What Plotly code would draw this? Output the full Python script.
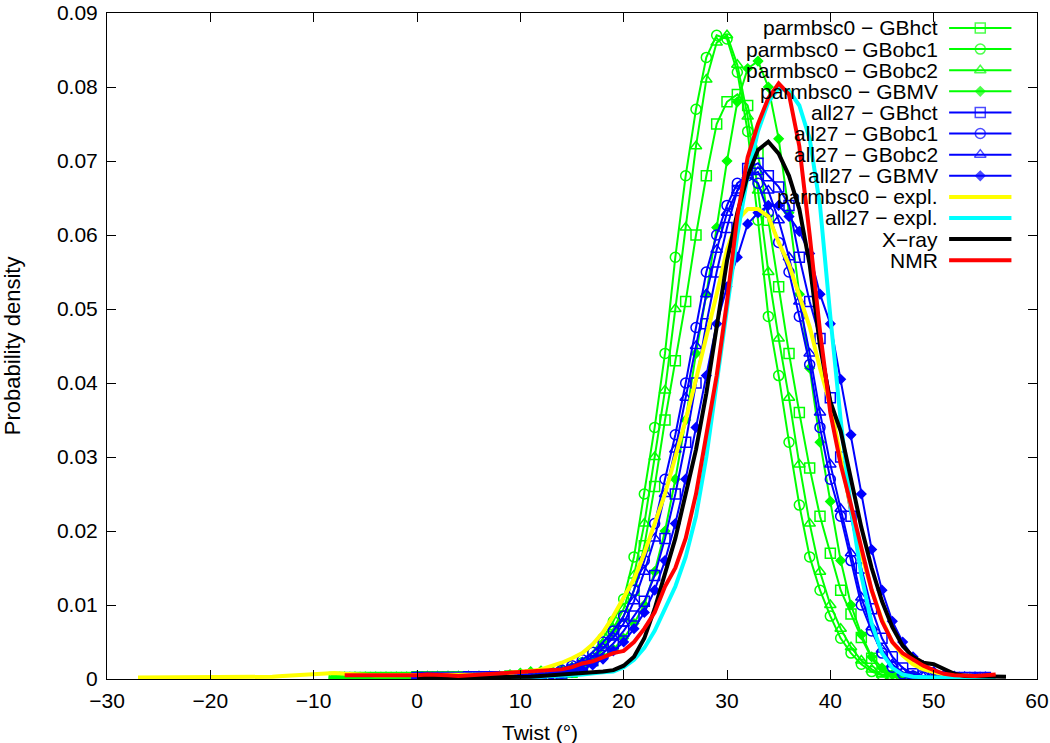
import plotly.graph_objects as go

# Twist grids (degrees) for each data set
X_GREEN = list(range(-8, 49))
X_BLUE = list(range(0, 56))
X_YELLOW = list(range(-27, 57))
X_CYAN = list(range(0, 57))
X_BLACK = list(range(0, 58))
X_RED = list(range(-7, 57))

# parmbsc0 simulations
BSC0_GBHCT = [0.0002, 0.0002, 0.0002, 0.0002, 0.0002, 0.0002, 0.0002, 0.0002,
              0.0003, 0.0003, 0.0003, 0.0003, 0.0003, 0.0003, 0.0003, 0.0003, 0.0003,
              0.0004, 0.0004, 0.0005, 0.0005, 0.0006, 0.0007,
              0.0009, 0.0014, 0.0025, 0.004, 0.006, 0.0085, 0.012, 0.018, 0.026, 0.035,
              0.043, 0.051, 0.060, 0.068, 0.075, 0.078, 0.079, 0.0775, 0.071, 0.062,
              0.053, 0.044, 0.036, 0.0285, 0.022, 0.017, 0.012, 0.0088, 0.0056, 0.0028,
              0.001, 0.0004, 0.0002, 0.0002]
BSC0_GBOBC1 = [0.0002, 0.0002, 0.0002, 0.0002, 0.0002, 0.0002, 0.0002, 0.0002,
               0.0003, 0.0003, 0.0003, 0.0003, 0.0003, 0.0003, 0.0003, 0.0003, 0.0003,
               0.0004, 0.0005, 0.0006, 0.0007, 0.0008, 0.001,
               0.0014, 0.0022, 0.0036, 0.0055, 0.0078, 0.0108, 0.0165, 0.025, 0.034, 0.044,
               0.057, 0.068, 0.077, 0.084, 0.087, 0.0865, 0.082, 0.074, 0.062, 0.049,
               0.041, 0.032, 0.0235, 0.0165, 0.012, 0.0085, 0.0055, 0.0035, 0.002, 0.001,
               0.0005, 0.0003, 0.0002, 0.0002]
BSC0_GBOBC2 = [0.0002, 0.0002, 0.0002, 0.0002, 0.0002, 0.0002, 0.0002, 0.0002,
               0.0003, 0.0003, 0.0003, 0.0003, 0.0003, 0.0003, 0.0003, 0.0003, 0.0003,
               0.0004, 0.0004, 0.0005, 0.0006, 0.0007, 0.0009,
               0.0012, 0.0018, 0.003, 0.0047, 0.0068, 0.0095, 0.014, 0.021, 0.030, 0.039,
               0.050, 0.061, 0.072, 0.081, 0.086, 0.087, 0.083, 0.076, 0.066, 0.055,
               0.046, 0.038, 0.029, 0.021, 0.0145, 0.010, 0.0068, 0.0043, 0.0025, 0.0013,
               0.0006, 0.0003, 0.0002, 0.0002]
BSC0_GBMV = [0.0002, 0.0002, 0.0002, 0.0002, 0.0002, 0.0002, 0.0002, 0.0002,
             0.0004, 0.0004, 0.0004, 0.0004, 0.0004, 0.0004, 0.0004, 0.0004, 0.0004,
             0.0006, 0.0008, 0.001, 0.0011, 0.0012, 0.0014,
             0.0016, 0.0019, 0.0023, 0.003, 0.004, 0.0055, 0.0075, 0.010, 0.0145, 0.020,
             0.027, 0.035, 0.044, 0.052, 0.061, 0.070, 0.078, 0.0825, 0.0835, 0.080,
             0.073, 0.063, 0.052, 0.042, 0.032, 0.024, 0.016, 0.010, 0.006, 0.003,
             0.0015, 0.0006, 0.0003, 0.0002]

# all27 simulations
A27_GBHCT = [0.0002, 0.0002, 0.0002, 0.0002, 0.0002, 0.0003, 0.0003, 0.0003, 0.0003, 0.0003,
             0.0003, 0.0004, 0.0004,
             0.0005, 0.0008, 0.0012, 0.0018, 0.0025, 0.0035, 0.0048, 0.0065, 0.0085, 0.0105,
             0.014, 0.019, 0.025, 0.032, 0.040, 0.048, 0.055, 0.061, 0.066, 0.069,
             0.0697, 0.068, 0.0665, 0.064, 0.057, 0.051, 0.046, 0.038, 0.030, 0.022,
             0.015, 0.0095, 0.0055, 0.003, 0.0015, 0.0007, 0.0004, 0.0003, 0.0002, 0.0002,
             0.0002, 0.0002, 0.0002]
A27_GBOBC1 = [0.0002, 0.0002, 0.0002, 0.0002, 0.0002, 0.0003, 0.0003, 0.0003, 0.0003, 0.0003,
              0.0004, 0.0005, 0.0006,
              0.0008, 0.0012, 0.0018, 0.0026, 0.0036, 0.005, 0.0065, 0.0085, 0.012, 0.016,
              0.021, 0.027, 0.033, 0.040, 0.0475, 0.055, 0.060, 0.064, 0.067, 0.068,
              0.067, 0.063, 0.059, 0.055, 0.049, 0.0425, 0.034, 0.027, 0.022, 0.016,
              0.010, 0.0065, 0.0035, 0.0016, 0.0007, 0.0004, 0.0003, 0.0002, 0.0002, 0.0002,
              0.0002, 0.0002, 0.0002]
A27_GBOBC2 = [0.0002, 0.0002, 0.0002, 0.0002, 0.0002, 0.0003, 0.0003, 0.0003, 0.0003, 0.0003,
              0.0004, 0.0004, 0.0005,
              0.0006, 0.001, 0.0015, 0.0022, 0.003, 0.0042, 0.0056, 0.0075, 0.0105, 0.0145,
              0.019, 0.025, 0.031, 0.038, 0.045, 0.052, 0.058, 0.063, 0.066, 0.068,
              0.0685, 0.066, 0.062, 0.057, 0.051, 0.044, 0.036, 0.029, 0.023, 0.017,
              0.011, 0.007, 0.004, 0.002, 0.0009, 0.0004, 0.0003, 0.0002, 0.0002, 0.0002,
              0.0002, 0.0002, 0.0002]
A27_GBMV = [0.0002, 0.0002, 0.0002, 0.0002, 0.0002, 0.0002, 0.0003, 0.0003, 0.0003, 0.0003,
            0.0003, 0.0003, 0.0004,
            0.0004, 0.0006, 0.0009, 0.0013, 0.0019, 0.0027, 0.0038, 0.005, 0.0068, 0.009,
            0.012, 0.016, 0.021, 0.027, 0.034, 0.041, 0.048, 0.053, 0.057, 0.0615,
            0.063, 0.064, 0.064, 0.0625, 0.0605, 0.0575, 0.052, 0.048, 0.0405, 0.033,
            0.025, 0.0175, 0.012, 0.0078, 0.005, 0.003, 0.0018, 0.001, 0.0006, 0.0004,
            0.0003, 0.0002, 0.0002]

# experimental distributions
BSC0_EXPL = [0.0002, 0.0002, 0.0002, 0.0002, 0.0002, 0.0002, 0.0002, 0.0002, 0.0002, 0.0002,
             0.0002, 0.0002, 0.0003, 0.0003, 0.0004, 0.0005, 0.0006, 0.0007, 0.0008, 0.0008,
             0.0007, 0.0006, 0.0006, 0.0005, 0.0005, 0.0005, 0.0005,
             0.0005, 0.0005, 0.0005, 0.0005, 0.0005, 0.0005, 0.0006, 0.0006, 0.0007, 0.0008,
             0.0009, 0.0011, 0.0013, 0.0017, 0.0022, 0.0028, 0.0035, 0.0047, 0.0063, 0.0085,
             0.011, 0.0135, 0.017, 0.021, 0.025, 0.030, 0.035, 0.0405, 0.046, 0.052,
             0.058, 0.062, 0.0635, 0.0635, 0.0625, 0.059, 0.056, 0.052, 0.0476, 0.042,
             0.037, 0.030, 0.023, 0.017, 0.012, 0.008, 0.005, 0.0032, 0.002, 0.0013,
             0.0009, 0.0006, 0.0005, 0.0004, 0.0004, 0.0004, 0.0004]
A27_EXPL = [0.0002, 0.0002, 0.0002, 0.0002, 0.0002, 0.0002, 0.0003, 0.0003, 0.0003, 0.0003,
            0.0003, 0.0003, 0.0003, 0.0004, 0.0004, 0.0005,
            0.0006, 0.0008, 0.0009, 0.001, 0.0016, 0.0026, 0.0042, 0.0065, 0.0095, 0.0125,
            0.0165, 0.022, 0.030, 0.040, 0.050, 0.060, 0.068, 0.074, 0.078, 0.0798,
            0.0795, 0.0775, 0.073, 0.064, 0.049, 0.035, 0.023, 0.014, 0.0075, 0.0035,
            0.0015, 0.0006, 0.0003, 0.0002, 0.0002, 0.0002, 0.0002, 0.0002, 0.0002, 0.0002,
            0.0002]
XRAY = [0.0002, 0.0002, 0.0002, 0.0002, 0.0002, 0.0002, 0.0002, 0.0002, 0.0002, 0.0002,
        0.0003, 0.0003, 0.0004, 0.0005, 0.0006, 0.0006, 0.0008, 0.0009, 0.001, 0.0012,
        0.0018, 0.003, 0.0055, 0.0095, 0.0145, 0.019, 0.025, 0.031, 0.0386, 0.048,
        0.0565, 0.063, 0.068, 0.0715, 0.0726, 0.071, 0.068, 0.0635, 0.056, 0.045,
        0.0375, 0.0335, 0.027, 0.0205, 0.015, 0.0105, 0.007, 0.0045, 0.003, 0.0022,
        0.002, 0.0014, 0.0007, 0.0004, 0.0004, 0.0003, 0.0004, 0.0003]
NMR = [0.0005, 0.0005, 0.0004, 0.0004, 0.0004, 0.0004, 0.0004,
       0.0005, 0.0006, 0.0006, 0.0005, 0.0004, 0.0005, 0.0005, 0.0006, 0.0007, 0.0008,
       0.0009, 0.001, 0.0012, 0.0013, 0.0013, 0.0016, 0.0021, 0.0024, 0.003, 0.0035,
       0.0038, 0.005, 0.0068, 0.009, 0.0125, 0.015, 0.019, 0.025, 0.033, 0.041,
       0.051, 0.0625, 0.0705, 0.075, 0.0785, 0.0805, 0.079, 0.072, 0.060, 0.047,
       0.036, 0.029, 0.0235, 0.018, 0.012, 0.0078, 0.005, 0.0035, 0.0026, 0.0018,
       0.0012, 0.0007, 0.0005, 0.0004, 0.0004, 0.0005, 0.0006]

X_TICKS = [-30, -20, -10, 0, 10, 20, 30, 40, 50, 60]
Y_TICKS = [0, 0.01, 0.02, 0.03, 0.04, 0.05, 0.06, 0.07, 0.08, 0.09]
Y_TICK_TEXT = ["0", "0.01", "0.02", "0.03", "0.04", "0.05", "0.06", "0.07", "0.08", "0.09"]

GREEN = "#00ff00"
BLUE = "#0000ff"
FONT = "Liberation Sans, Arial, sans-serif"

# (label, x, y, colour, marker symbol or None, line width)
series = [
    ("parmbsc0 \u2212 GBhct", X_GREEN, BSC0_GBHCT, GREEN, "square-open", 2),
    ("parmbsc0 \u2212 GBobc1", X_GREEN, BSC0_GBOBC1, GREEN, "circle-open", 2),
    ("parmbsc0 \u2212 GBobc2", X_GREEN, BSC0_GBOBC2, GREEN, "triangle-up-open", 2),
    ("parmbsc0 \u2212 GBMV", X_GREEN, BSC0_GBMV, GREEN, "diamond", 2),
    ("all27 \u2212 GBhct", X_BLUE, A27_GBHCT, BLUE, "square-open", 2),
    ("all27 \u2212 GBobc1", X_BLUE, A27_GBOBC1, BLUE, "circle-open", 2),
    ("all27 \u2212 GBobc2", X_BLUE, A27_GBOBC2, BLUE, "triangle-up-open", 2),
    ("all27 \u2212 GBMV", X_BLUE, A27_GBMV, BLUE, "diamond", 2),
    ("parmbsc0 \u2212 expl.", X_YELLOW, BSC0_EXPL, "#ffff00", None, 4),
    ("all27 \u2212 expl.", X_CYAN, A27_EXPL, "#00ffff", None, 4),
    ("X\u2212ray", X_BLACK, XRAY, "#000000", None, 4),
    ("NMR", X_RED, NMR, "#ff0000", None, 4),
]


def marker_style(symbol, color):
    if symbol is None:
        return None
    size = 7 if symbol == "diamond" else 10
    return dict(symbol=symbol, size=size, color=color,
                line=dict(color=color, width=1.5))


fig = go.Figure()

for name, xs, ys, color, symbol, width in series:
    fig.add_trace(go.Scatter(
        x=xs, y=ys, name=name,
        mode="lines+markers" if symbol else "lines",
        line=dict(color=color, width=width),
        marker=marker_style(symbol, color),
        showlegend=False, hoverinfo="skip",
    ))

# gnuplot-style key: right-aligned label, sample to its right
row0, row_step = 0.9775, 0.0317
for i, (name, _, _, color, symbol, width) in enumerate(series):
    yk = row0 - i * row_step
    fig.add_trace(go.Scatter(
        x=[0.9055, 0.939, 0.9725], y=[yk, yk, yk],
        xaxis="x2", yaxis="y2",
        mode="lines+markers" if symbol else "lines",
        line=dict(color=color, width=width),
        marker=dict(
            symbol=symbol, color=color,
            size=[0, 7 if symbol == "diamond" else 10, 0],
            line=dict(color=color, width=1.5),
        ) if symbol else None,
        showlegend=False, hoverinfo="skip",
    ))
    fig.add_annotation(
        text=name, xref="paper", yref="paper",
        x=0.896, y=yk, xanchor="right", yanchor="middle",
        showarrow=False, font=dict(size=21, color="black", family=FONT),
    )

fig.add_annotation(
    text="Twist (\u00b0)", xref="paper", yref="paper",
    x=0.4656, y=-0.08, xanchor="center", yanchor="middle",
    showarrow=False, font=dict(size=21, color="black", family=FONT),
)
fig.add_annotation(
    text="Probability density", xref="paper", yref="paper",
    x=-0.102, y=0.5, xanchor="center", yanchor="middle", textangle=-90,
    showarrow=False, font=dict(size=22, color="black", family=FONT),
)

axis_common = dict(
    showline=True, linecolor="black", linewidth=1, automargin=False,
    mirror="ticks", ticks="inside", ticklen=9, tickwidth=1, tickcolor="black",
    showgrid=False, zeroline=False,
    tickfont=dict(size=21, color="black", family=FONT),
)

fig.update_layout(
    width=1050, height=743,
    margin=dict(l=107, r=13, t=13, b=64),
    paper_bgcolor="white", plot_bgcolor="white",
    showlegend=False,
    xaxis=dict(range=[-30, 60], tickvals=X_TICKS, ticklabelstandoff=3, **axis_common),
    yaxis=dict(range=[0, 0.09], tickvals=Y_TICKS, ticktext=Y_TICK_TEXT,
               ticklabelstandoff=4, **axis_common),
    xaxis2=dict(range=[0, 1], overlaying="x", visible=False, fixedrange=True),
    yaxis2=dict(range=[0, 1], overlaying="y", visible=False, fixedrange=True),
)

# drop the default page margin so the figure sits at the window's corner
fig.write_html("out.html", config={"displayModeBar": False},
               post_script="document.body.style.margin = '0';")
